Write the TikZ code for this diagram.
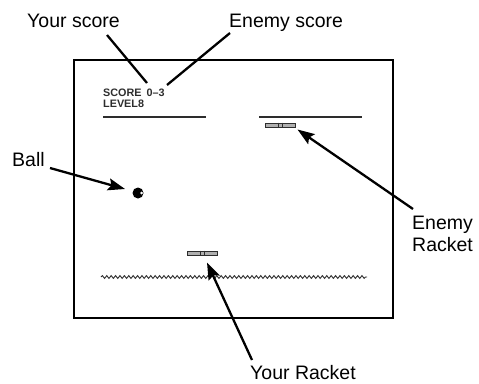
\documentclass[tikz,border=0pt]{standalone}
\usepackage{fontspec}
\setmainfont{Liberation Sans}
\usetikzlibrary{arrows.meta,positioning,decorations.pathmorphing}
\definecolor{ScreenGray}{RGB}{45,45,45}
\definecolor{RacketFill}{RGB}{175,175,175}

\begin{document}
\begin{tikzpicture}[x=1pt, y=-1pt,
    callout/.style={font=\fontsize{19.5}{22}\selectfont, inner sep=0pt, align=left},
    hud/.style={font=\fontsize{10.8}{11}\selectfont\bfseries, text=ScreenGray, inner sep=0pt},
    pointer/.style={-{Stealth[length=17pt, width=12pt, inset=3pt]}, line width=2.3pt},
    leader/.style={line width=2.3pt},
    racket/.style={draw=ScreenGray, fill=RacketFill, line width=1pt,
        minimum width=30pt, minimum height=4pt, inner sep=0pt}]

    % Page size (pixel coordinates, y runs down)
    \useasboundingbox (0,0) rectangle (479,383);

    % Game screen
    \draw[line width=1.5pt] (74,60) rectangle (393,318);

    % Score display
    \node[hud, anchor=base west] (score) at (103,96.5) {SCORE\hspace{5pt}0--3};
    \node[hud, anchor=base west] (level) at (103,107) {LEVEL8};

    % Top walls
    \foreach \xa/\xb in {103/206, 259/362} {
        \draw[ScreenGray, line width=2.6pt] (\xa,117) -- (\xb,117);
    }

    % Rackets
    \node[racket] (enemyracket) at (280,125) {};
    \node[racket] (yourracket) at (202,253) {};
    \foreach \r in {enemyracket, yourracket} {
        \draw[ScreenGray, line width=0.8pt] ([xshift=-2pt]\r.north) -- ([xshift=-2pt]\r.south);
        \draw[ScreenGray, line width=0.8pt] ([xshift=2pt]\r.north) -- ([xshift=2pt]\r.south);
    }

    % Ball
    \coordinate (ball) at (138,193);
    \fill[black] (ball) circle (5.5);
    \fill[white] ([xshift=3.6pt]ball) circle (1.5);

    % Bottom edge (wavy)
    \draw[ScreenGray, line width=0.9pt, decorate,
        decoration={snake, segment length=4.4pt, amplitude=1.4pt}] (101,277) -- (367,277);

    % Labels
    \node[callout, anchor=base west] (yourscore) at (27,27) {Your score};
    \node[callout, anchor=base west] (enemyscore) at (229,27) {Enemy score};
    \node[callout, anchor=base west] (balllbl) at (12,166) {Ball};
    \node[callout, anchor=base west] (enemylbl) at (412,251) {Enemy\\Racket};
    \node[callout, anchor=base west] (yourlbl) at (250,379) {Your Racket};

    % Score leaders
    \coordinate (yourscoreend) at (147,83);
    \coordinate (enemyscoreend) at (167,85);
    \draw[leader] ([shift={(80,8)}]yourscore.base west) -- (yourscoreend);
    \draw[leader] ([shift={(1,6)}]enemyscore.base west) -- (enemyscoreend);

    % Pointers
    \draw[pointer] ([shift={(38,2)}]balllbl.base west) -- ([shift={(-13,-4)}]ball);
    \draw[pointer] ([shift={(1,-42)}]enemylbl.base west) -- ([shift={(2,2)}]enemyracket.south east);
    \draw[pointer] ([shift={(2,-19)}]yourlbl.base west) -- ([shift={(5,7)}]yourracket.south);
\end{tikzpicture}
\end{document}
